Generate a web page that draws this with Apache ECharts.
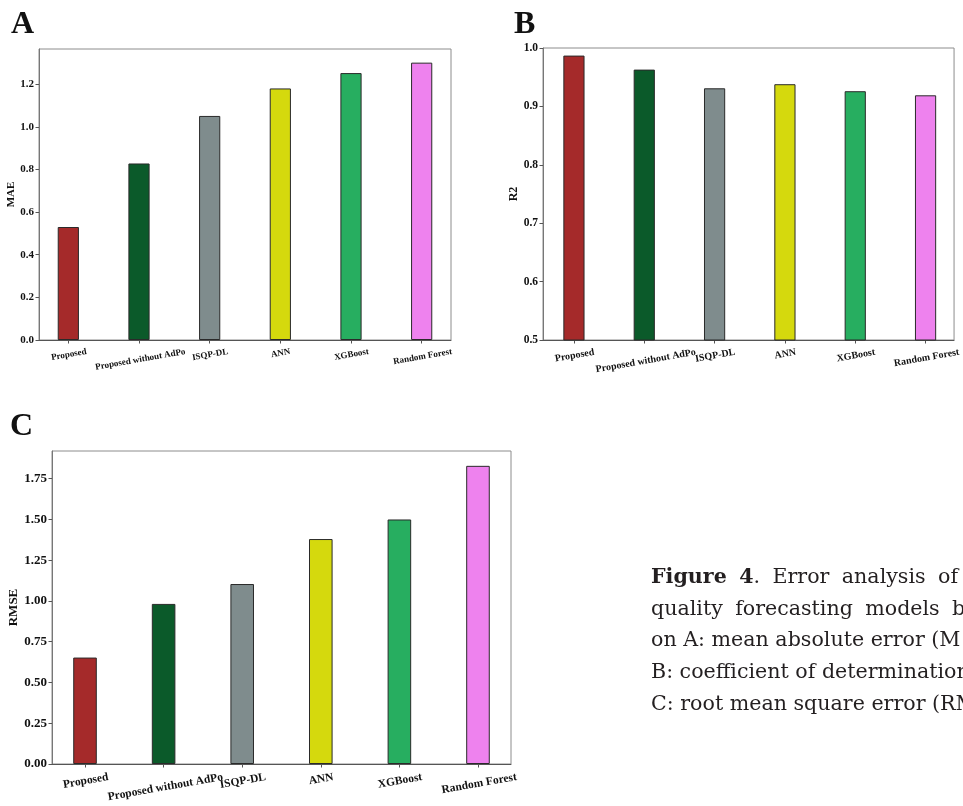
<!DOCTYPE html>
<html>
<head>
<meta charset="utf-8">
<script src="https://cdn.jsdelivr.net/npm/echarts@6/dist/echarts.min.js"></script>
<style>
html,body{margin:0;padding:0;background:#fff;}
#chart{width:963px;height:806px;}
</style>
</head>
<body>
<div id="chart"></div>
<script>
// ---- data ----
const categories = ['Proposed', 'Proposed without AdPo', 'ISQP-DL', 'ANN', 'XGBoost', 'Random Forest'];
const maeValues  = [0.530, 0.828, 1.051, 1.180, 1.252, 1.301];
const r2Values   = [0.987, 0.963, 0.931, 0.938, 0.926, 0.919];
const rmseValues = [0.653, 0.982, 1.104, 1.380, 1.500, 1.829];
const barColors  = ['#a52a2a', '#0b5a2a', '#7f8c8d', '#d5d90d', '#27ae60', '#ee82ee'];
const maeTicks   = [0, 0.2, 0.4, 0.6, 0.8, 1.0, 1.2];
const r2Ticks    = [0.5, 0.6, 0.7, 0.8, 0.9, 1.0];
const rmseTicks  = [0, 0.25, 0.5, 0.75, 1.0, 1.25, 1.5, 1.75];
const catIndex   = categories.map((c, i) => i);

const SERIF = '"Liberation Serif", "Times New Roman", serif';
const measureCtx = document.createElement('canvas').getContext('2d');
function textWidth(t, font) { measureCtx.font = font; return measureCtx.measureText(t).width; }

const panels = [
  { grid: { left: 39, top: 49, width: 412, height: 291 }, xMin: -0.415, xMax: 5.415,
    yMin: 0, yMax: 1.365, ticks: maeTicks, dec: 1, values: maeValues, name: 'MAE',
    tickFs: 11, catFs: 9, nameFs: 11, nameGap: 17 },
  { grid: { left: 543, top: 48, width: 413, height: 292 }, xMin: -0.44, xMax: 5.405,
    yMin: 0.5, yMax: 1.0, ticks: r2Ticks, dec: 1, values: r2Values, name: 'R2',
    tickFs: 11.5, catFs: 10, nameFs: 12, nameGap: 19 },
  { grid: { left: 52, top: 451, width: 459, height: 313 }, xMin: -0.42, xMax: 5.42,
    yMin: 0, yMax: 1.92, ticks: rmseTicks, dec: 2, values: rmseValues, name: 'RMSE',
    tickFs: 13, catFs: 11.5, nameFs: 13, nameGap: 29 }
];

const rad = 10 * Math.PI / 180;
function xLabel(fs) {
  const rich = {};
  const h = fs * 1.15;
  categories.forEach((c, i) => {
    const w = textWidth(c, 'bold ' + fs + 'px ' + SERIF);
    rich['c' + i] = { fontSize: fs, fontWeight: 'bold', fontFamily: SERIF, color: '#111',
      padding: [w * Math.tan(rad), 0, 0, 0] };
  });
  return {
    show: true, customValues: catIndex, rotate: 10, align: 'center', verticalAlign: 'middle',
    margin: 6.5 + h * Math.cos(rad) / 2,
    formatter: v => { const i = Math.round(v); return '{c' + i + '|' + categories[i] + '}'; },
    rich
  };
}

const grids = [], xAxes = [], yAxes = [], series = [];
panels.forEach((p, k) => {
  grids.push(Object.assign({ show: true, borderColor: '#8c8c8c', borderWidth: 1, containLabel: false }, p.grid));
  const barW = 0.3 * p.grid.width / (p.xMax - p.xMin);
  xAxes.push({
    gridIndex: k, type: 'value', min: p.xMin, max: p.xMax,
    axisLine: { show: true, onZero: false, lineStyle: { color: '#555', width: 1 } },
    axisTick: { show: true, customValues: catIndex, length: 3.5, lineStyle: { color: '#555' } },
    axisLabel: xLabel(p.catFs),
    splitLine: { show: false }
  });
  yAxes.push({
    gridIndex: k, type: 'value', min: p.yMin, max: p.yMax,
    name: p.name, nameLocation: 'middle', nameGap: p.nameGap, nameRotate: 90,
    nameTextStyle: { fontFamily: SERIF, fontWeight: 'bold', fontSize: p.nameFs, color: '#111' },
    axisLine: { show: true, onZero: false, lineStyle: { color: '#777', width: 1 } },
    axisTick: { show: true, customValues: p.ticks, length: 3.5, lineStyle: { color: '#555' } },
    axisLabel: { show: true, customValues: p.ticks, margin: 5, fontFamily: SERIF, fontWeight: 'bold',
      fontSize: p.tickFs, color: '#111', formatter: v => Number(v).toFixed(p.dec) },
    splitLine: { show: false }
  });
  series.push({
    type: 'bar', xAxisIndex: k, yAxisIndex: k, barWidth: barW,
    data: p.values.map((v, i) => ({ value: [i, v], itemStyle: { color: barColors[i] } })),
    itemStyle: { borderColor: '#2a2a2a', borderWidth: 1 },
    emphasis: { disabled: true }
  });
});

function txt(x, y, text, font, color) {
  return { type: 'text', x: x, y: y, silent: true,
    style: { text: text, font: font, fill: color || '#231f20', textAlign: 'left', textVerticalAlign: 'middle',
      align: 'left', verticalAlign: 'middle' } };
}
const CAP = '20.6px "DejaVu Serif", serif';
const CAPB = 'bold 20.6px "DejaVu Serif", serif';

// justified caption line: words laid out so the last word starts at lastX
function justifiedLine(words, x0, lastX, y) {
  const widths = words.map(w => textWidth(w.t, w.font));
  const nGaps = words.filter((w, i) => i > 0 && !w.glue).length;
  let used = 0; for (let i = 0; i < words.length - 1; i++) used += widths[i];
  const gap = (lastX - x0 - used) / nGaps;
  const out = []; let x = x0;
  words.forEach((w, i) => {
    if (i > 0 && !w.glue) x += gap;
    out.push(txt(x, y, w.t, w.font));
    x += widths[i];
  });
  return out;
}

const graphics = [
  txt(11, 24.5, 'A', 'bold 32px ' + SERIF, '#111'),
  txt(514, 25, 'B', 'bold 32px ' + SERIF, '#111'),
  txt(10, 427, 'C', 'bold 32px ' + SERIF, '#111')
].concat(
  justifiedLine([{ t: 'Figure', font: CAPB }, { t: '4', font: CAPB }, { t: '.', font: CAP, glue: true },
    { t: 'Error', font: CAP }, { t: 'analysis', font: CAP }, { t: 'of', font: CAP }], 651, 938, 578),
  justifiedLine([{ t: 'quality', font: CAP }, { t: 'forecasting', font: CAP }, { t: 'models', font: CAP },
    { t: 'b', font: CAP }], 651, 952, 609.5),
  [
    txt(651, 641, 'on A: mean absolute error (M', CAP),
    txt(651, 673, 'B: coefficient of determination', CAP),
    txt(651, 704.5, 'C: root mean square error (RM', CAP)
  ]
);

const chart = echarts.init(document.getElementById('chart'), null, { renderer: 'canvas' });
chart.setOption({
  animation: false,
  backgroundColor: '#ffffff',
  grid: grids, xAxis: xAxes, yAxis: yAxes, series: series,
  graphic: { elements: graphics }
});
</script>
</body>
</html>
